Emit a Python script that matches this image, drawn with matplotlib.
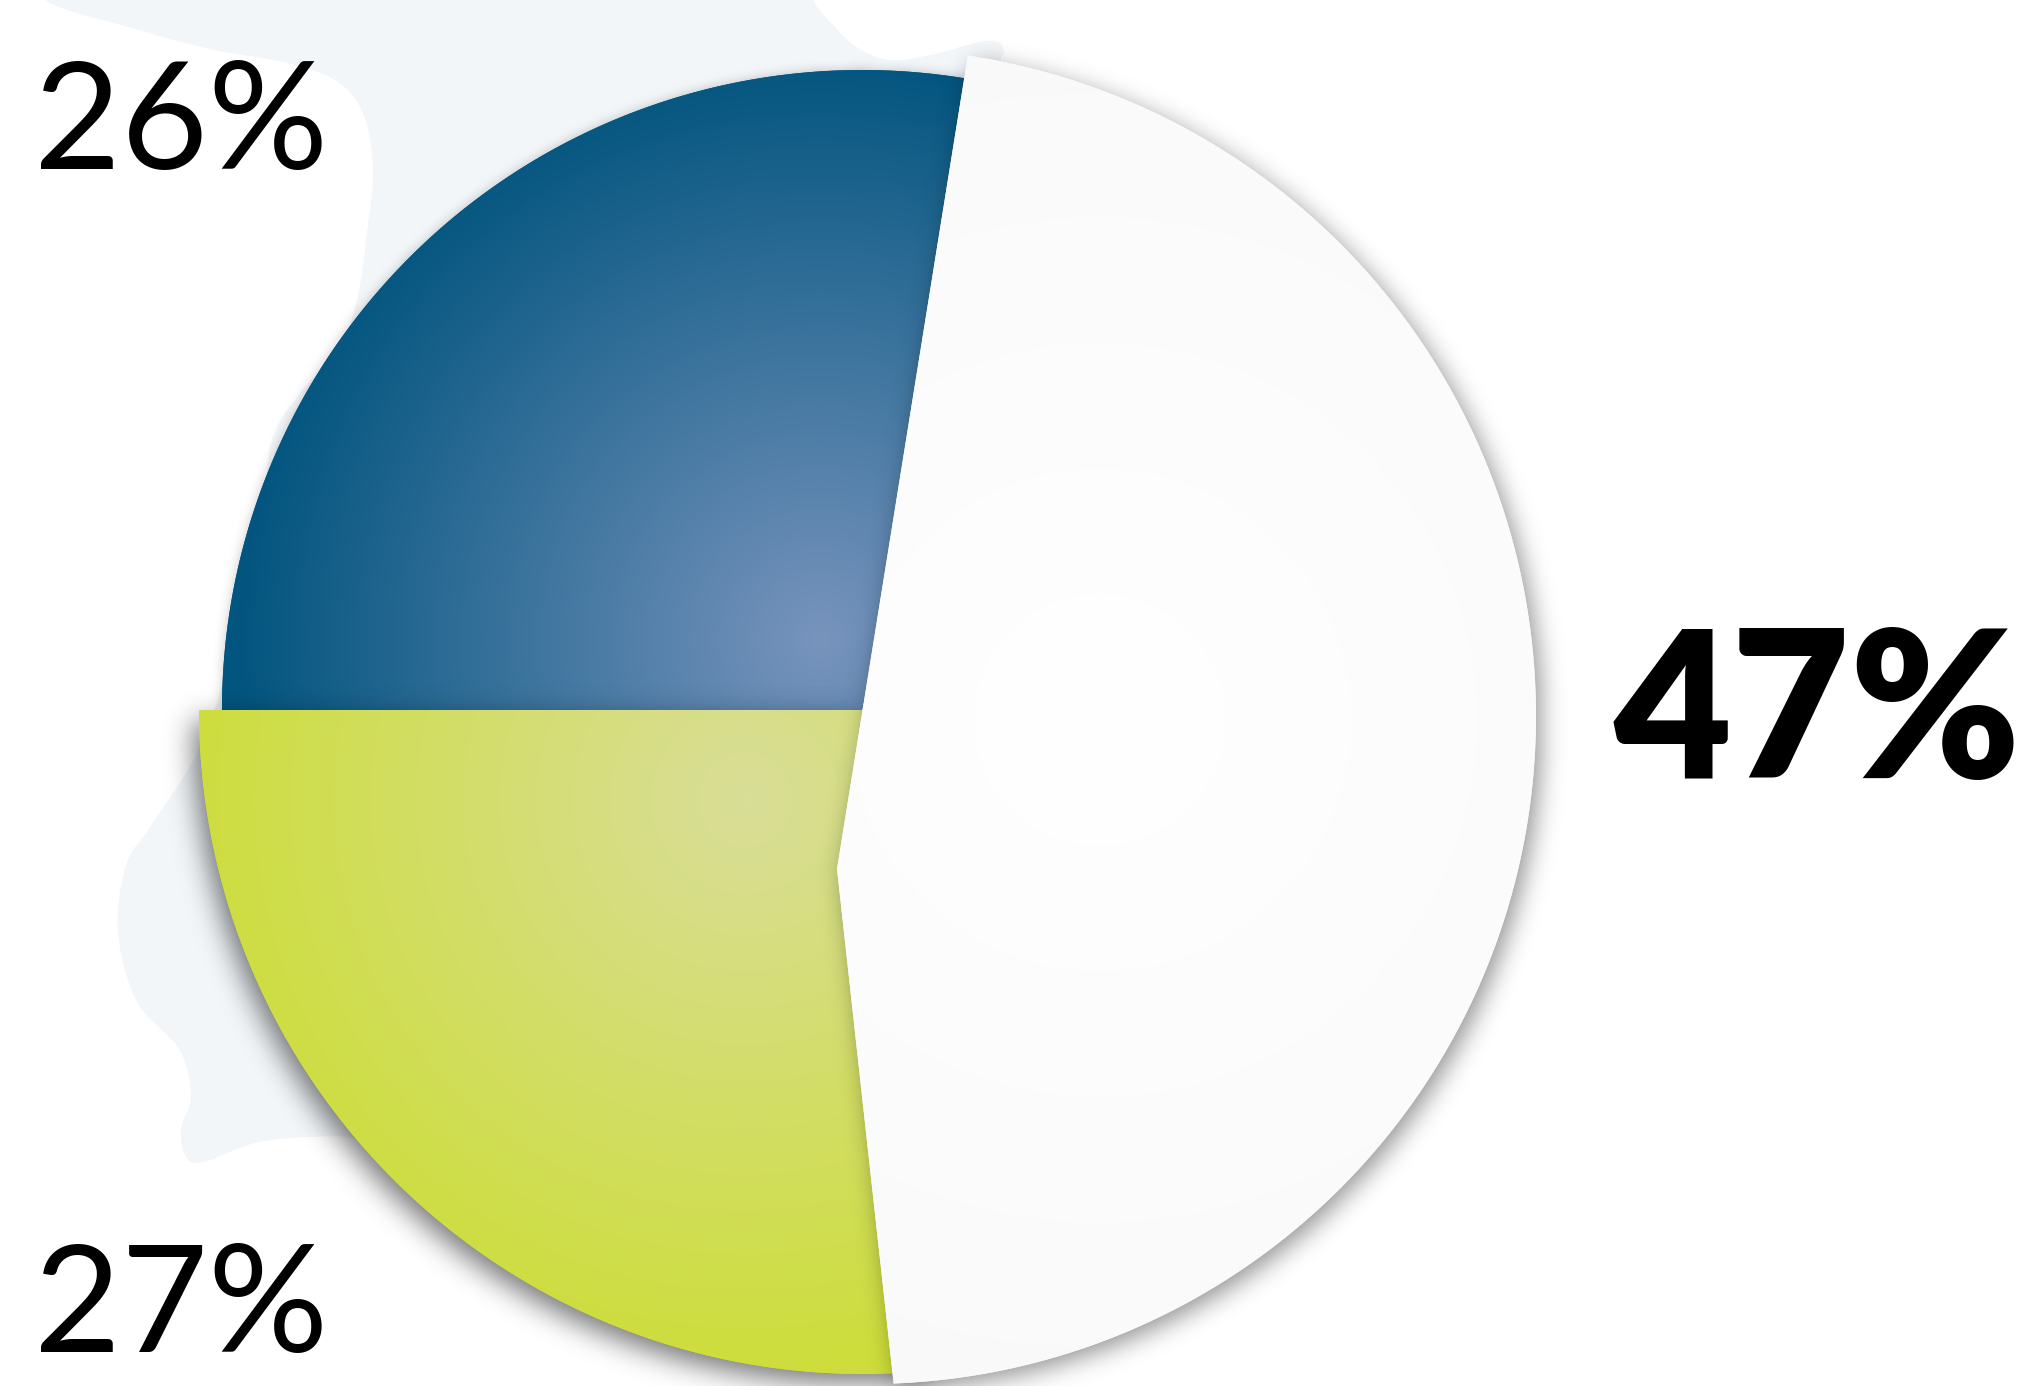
import numpy as np
import matplotlib
matplotlib.use('Agg')
import matplotlib.pyplot as plt
from matplotlib.patches import Polygon
from matplotlib.path import Path
from matplotlib.colors import to_rgb

# ==========================================
# 1. Data
# ==========================================
categories = ['Blue', 'Green', 'White']
shares = [26, 27, 47]
labels = ['26%', '27%', '47%']

# ==========================================
# 2. Style / layout (pixel space, y measured from the top)
# ==========================================
W, H = 2023, 1386
COL_IN = ['#7894bd', '#d9de98', '#ffffff']
COL_OUT = ['#02557f', '#cddd3c', '#f8f8f8']
BLOB_COL = '#f2f6f9'

BLUE_C, R_BLUE = (862, 710), 640
GREEN_C, R_GREEN = (863, 710), 664
WHITE_C, R_WHITE = (868, 716), 668
WHITE_APEX = (837, 869)      # white slice is pulled out of its own centre
WHITE_MID = -3.2             # direction of the white slice (deg)
SPLIT = 180                  # blue / green boundary (deg)
TUCK = 4                     # blue/green run a little under the white slice


def up(p):
    return (p[0], H - p[1])


fig = plt.figure(figsize=(W / 100, H / 100), dpi=100)
ax = fig.add_axes([0, 0, 1, 1])
ax.set_xlim(0, W)
ax.set_ylim(0, H)
ax.axis('off')

gx = np.linspace(0, W, W // 2)
gy = np.linspace(0, H, H // 2)
XX, YY = np.meshgrid(gx, gy)
GRID = np.column_stack([XX.ravel(), YY.ravel()])


def wedge_verts(c, r, t1, t2, apex=None):
    t = np.radians(np.linspace(t1, t2, 300))
    arc = np.column_stack([c[0] + r * np.cos(t), c[1] + r * np.sin(t)])
    tip = np.array([apex if apex is not None else c])
    return np.vstack([tip, arc])


def soft_shadow(verts, dx, dy, sigma, alpha, z):
    mask = Path(verts + [dx, dy]).contains_points(GRID).reshape(XX.shape).astype(float)
    pad = 60
    m = np.pad(mask, pad)
    s = sigma / 2.0
    ky = np.fft.fftfreq(m.shape[0])
    kx = np.fft.fftfreq(m.shape[1])
    G = np.exp(-2 * (np.pi * s) ** 2 * (ky[:, None] ** 2 + kx[None, :] ** 2))
    blur = np.real(np.fft.ifft2(np.fft.fft2(m) * G))[pad:-pad, pad:-pad]
    rgba = np.zeros(mask.shape + (4,))
    rgba[..., 3] = np.clip(blur, 0, 1) * alpha
    ax.imshow(rgba, extent=(0, W, 0, H), origin='lower', zorder=z,
              interpolation='bilinear', aspect='auto')


def radial_fill(verts, centre, radius, c_in, c_out, z):
    patch = Polygon(verts, closed=True, facecolor=c_out, edgecolor='none', zorder=z)
    ax.add_patch(patch)
    t = np.clip(np.hypot(XX - centre[0], YY - centre[1]) / radius, 0, 1)[..., None]
    img = np.array(to_rgb(c_in)) * (1 - t) + np.array(to_rgb(c_out)) * t
    im = ax.imshow(img, extent=(0, W, 0, H), origin='lower', zorder=z + 0.1,
                   interpolation='bilinear', aspect='auto')
    im.set_clip_path(patch)


def smooth_closed(pts, n=16):
    P = np.array(pts, float)
    out = []
    N = len(P)
    t = np.linspace(0, 1, n, endpoint=False)[:, None]
    for i in range(N):
        p0, p1, p2, p3 = P[i - 1], P[i], P[(i + 1) % N], P[(i + 2) % N]
        out.append(0.5 * (2 * p1 + (-p0 + p2) * t + (2 * p0 - 5 * p1 + 4 * p2 - p3) * t ** 2
                          + (-p0 + 3 * p1 - 3 * p2 + p3) * t ** 3))
    return np.vstack(out)


# ==========================================
# 3. Background blob
# ==========================================
blob_pts = [(30, -40), (45, 0), (128, 27), (210, 49), (287, 63), (338, 82), (364, 116),
            (373, 170), (367, 232), (357, 300), (338, 350), (300, 393), (272, 440),
            (262, 520), (235, 640), (200, 747), (150, 827), (126, 865), (118, 932),
            (137, 1002), (179, 1049), (191, 1096), (181, 1129), (186, 1157), (204, 1162),
            (255, 1143), (312, 1137), (364, 1141), (480, 1180), (700, 1150), (1000, 900),
            (1100, 500), (1040, 250), (1003, 80), (1004, 52), (998, 42), (980, 42),
            (930, 55), (890, 60), (858, 48), (833, 25), (813, 0), (800, -40)]
blob = smooth_closed([up(p) for p in blob_pts])
ax.add_patch(Polygon(blob, closed=True, facecolor=BLOB_COL, edgecolor='none', zorder=1))

# ==========================================
# 4. Slices
# ==========================================
spans = np.array(shares, float) / sum(shares) * 360
w_t1 = WHITE_MID - spans[2] / 2
w_t2 = WHITE_MID + spans[2] / 2

blue_v = wedge_verts(up(BLUE_C), R_BLUE, w_t2 - TUCK, SPLIT)
green_v = wedge_verts(up(GREEN_C), R_GREEN, SPLIT, w_t1 + 360 + TUCK)
white_v = wedge_verts(up(WHITE_C), R_WHITE, w_t1, w_t2, apex=up(WHITE_APEX))

soft_shadow(blue_v, 0, 0, 6, 0.25, 2)
radial_fill(blue_v, up((820, 640)), 585, COL_IN[0], COL_OUT[0], 3)

soft_shadow(green_v, -6, -10, 14, 0.55, 4)
radial_fill(green_v, up((745, 800)), 565, COL_IN[1], COL_OUT[1], 5)

soft_shadow(white_v, 6, -7, 12, 0.42, 6)
radial_fill(white_v, up((1100, 720)), 880, COL_IN[2], COL_OUT[2], 7)

# ==========================================
# 5. Labels
# ==========================================
ax.text(34, H - 169, labels[0], fontsize=108, family='Lato', color='black',
        ha='left', va='baseline', zorder=10)
ax.text(34, H - 1352, labels[1], fontsize=108, family='Lato', color='black',
        ha='left', va='baseline', zorder=10)
ax.text(2021, H - 778, labels[2], fontsize=147, family='Lato', fontweight='heavy',
        color='black', ha='right', va='baseline', zorder=10)

ax.set_xlim(0, W)
ax.set_ylim(0, H)
fig.savefig('out.png', dpi=100, facecolor='white')
